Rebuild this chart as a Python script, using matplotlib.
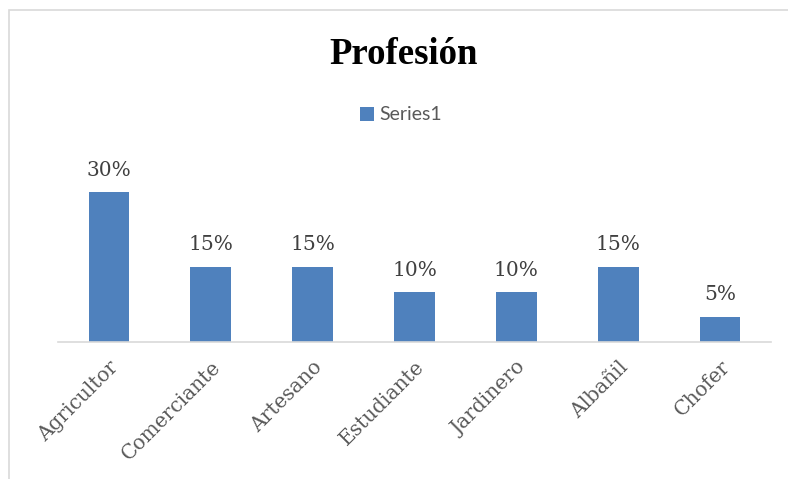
import matplotlib
matplotlib.use("Agg")
import matplotlib.pyplot as plt
from matplotlib.patches import Rectangle

categories = ["Agricultor", "Comerciante", "Artesano", "Estudiante", "Jardinero", "Albañil", "Chofer"]
values = [30, 15, 15, 10, 10, 15, 5]
series_name = "Series1"
title = "Profesión"

W, H = 788, 479
fig = plt.figure(figsize=(W/100, H/100), dpi=100)

# outer chart border
fig.patches.append(Rectangle((9/W, -0.1), 1.2, 1 - 10/H + 0.1, transform=fig.transFigure,
                             fill=False, edgecolor="#d9d9d9", linewidth=1.2))

ax = fig.add_axes([58/W, (H-342)/H, (771-58)/W, (342-170)/H])
x = range(len(categories))
bars = ax.bar(x, values, width=0.4, color="#4f81bd", label=series_name, zorder=2)
ax.set_xlim(-0.5, len(categories) - 0.5)
ax.set_ylim(0, 34.4)
for s in ["top", "right", "left"]:
    ax.spines[s].set_visible(False)
ax.spines["bottom"].set_color("#d9d9d9")
ax.spines["bottom"].set_linewidth(1.2)
ax.set_yticks([])
ax.set_xticks(list(x))
ax.set_xticklabels(categories, rotation=45, ha="right", va="top", rotation_mode="anchor",
                   fontsize=14.5, color="#595959", family="DejaVu Serif")
ax.tick_params(axis="x", length=0, pad=11)

for xi, v in zip(x, values):
    ax.annotate(f"{v}%", (xi, v), xytext=(0, 9), textcoords="offset points",
                ha="center", va="bottom", fontsize=14.5, color="#404040",
                family="DejaVu Serif", clip_on=False)

fig.text(404/W, 1 - 54/H, title, ha="center", va="center", fontsize=26.5,
         fontweight="bold", family="Liberation Serif")

leg = fig.legend(handles=[bars], labels=[series_name], loc="center", bbox_to_anchor=(401/W, 1 - 115/H),
                 frameon=False, handlelength=0.7, handleheight=0.7, handletextpad=0.3,
                 prop={"family": "Lato", "size": 14})
for t in leg.get_texts():
    t.set_color("#595959")

fig.savefig("out.png", dpi=100)
